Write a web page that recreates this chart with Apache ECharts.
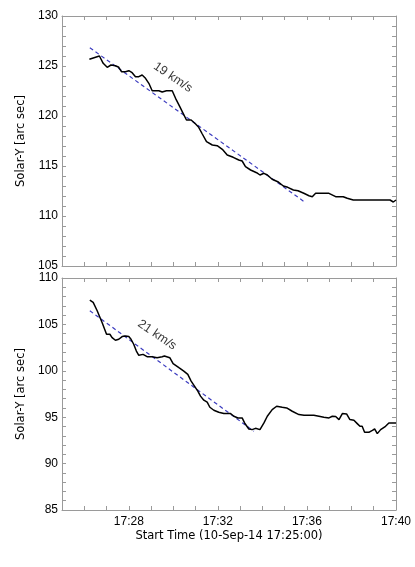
<!DOCTYPE html>
<html>
<head>
<meta charset="utf-8">
<title>Solar-Y vs time</title>
<script src="https://cdn.jsdelivr.net/npm/echarts@6.0.0/dist/echarts.min.js"></script>
<style>
  html, body { margin: 0; padding: 0; background: #fff; }
  #chart { width: 415px; height: 567px; }
</style>
</head>
<body>
<div id="chart"></div>
<script>
// time is in minutes after the start time 17:25:00
const startHour = 17;
const startMinute = 25;

// upper panel track
const topTime = [1.23, 1.68, 1.85, 2.03, 2.2, 2.4, 2.55, 2.67, 2.85, 3.0, 3.15, 3.3, 3.45, 3.6, 3.75, 3.9,
  4.05, 4.35, 4.5, 4.69, 4.95, 5.1, 5.29, 5.44, 5.59, 5.8, 6.0, 6.14, 6.3, 6.49, 6.75, 6.97, 7.2, 7.42,
  7.69, 7.94, 8.09, 8.24, 8.47, 8.74, 8.89, 9.07, 9.22, 9.44, 9.69, 9.94, 10.14, 10.39, 10.6, 10.86,
  11.09, 11.24, 11.39, 11.99, 12.29, 12.63, 12.81, 13.08, 14.73, 14.88, 15.0];
const topY = [125.67, 126.0, 125.27, 124.87, 125.1, 125.03, 124.87, 124.43, 124.43, 124.53, 124.33, 123.93,
  123.93, 124.1, 123.77, 123.27, 122.53, 122.53, 122.4, 122.53, 122.53, 121.77, 120.93, 120.27, 119.6,
  119.6, 119.2, 118.87, 118.2, 117.43, 117.1, 117.03, 116.67, 116.1, 115.87, 115.6, 115.5, 114.93, 114.6,
  114.33, 114.1, 114.27, 114.1, 113.67, 113.43, 113.0, 112.87, 112.6, 112.53, 112.27, 112.03, 111.93,
  112.27, 112.27, 111.93, 111.93, 111.77, 111.6, 111.6, 111.4, 111.6];

// lower panel track
const bottomTime = [1.25, 1.4, 1.58, 1.8, 2.0, 2.15, 2.25, 2.4, 2.55, 2.7, 2.85, 3.0, 3.1, 3.22, 3.34, 3.45,
  3.64, 3.82, 4.05, 4.27, 4.5, 4.6, 4.84, 4.99, 5.25, 5.47, 5.65, 5.8, 5.95, 6.1, 6.22, 6.37, 6.52, 6.64,
  6.82, 7.04, 7.27, 7.57, 7.72, 7.9, 8.09, 8.2, 8.39, 8.54, 8.69, 8.89, 9.07, 9.22, 9.44, 9.64, 9.89,
  10.09, 10.34, 10.64, 10.87, 11.31, 11.54, 11.76, 11.99, 12.14, 12.29, 12.44, 12.59, 12.78, 12.93,
  13.11, 13.26, 13.38, 13.48, 13.59, 13.78, 13.94, 14.04, 14.16, 14.31, 14.53, 14.68, 15.0];
const bottomY = [107.62, 107.37, 106.47, 105.2, 103.94, 103.94, 103.58, 103.29, 103.4, 103.69, 103.76,
  103.69, 103.4, 102.86, 102.13, 101.67, 101.77, 101.52, 101.52, 101.41, 101.52, 101.6, 101.41, 100.77,
  100.33, 99.97, 99.61, 98.89, 98.35, 97.81, 97.27, 96.83, 96.62, 96.07, 95.75, 95.53, 95.39, 95.39,
  95.1, 94.92, 94.92, 94.38, 93.73, 93.66, 93.8, 93.66, 94.38, 95.1, 95.82, 96.18, 96.07, 96.0, 95.64,
  95.28, 95.2, 95.2, 95.1, 94.99, 94.92, 95.1, 95.07, 94.74, 95.39, 95.35, 94.74, 94.67, 94.31, 94.02,
  94.02, 93.37, 93.37, 93.59, 93.73, 93.23, 93.66, 94.02, 94.38, 94.38];

// linear fits (end points)
const topFitTime = [1.25, 10.94];
const topFitY = [126.83, 111.33];
const bottomFitTime = [1.25, 8.62];
const bottomFitY = [106.47, 93.48];

// speed annotations
const speedText = ['19 km/s', '21 km/s'];
const speedTime = [4.98, 4.27];
const speedY = [123.87, 103.86];

// axis ranges / ticks
const timeRange = [0, 15];
const topRange = [105, 130];
const bottomRange = [85, 110];
const labelEveryMin = 4;
const labelEveryY = 5;

const FONT = 'Liberation Sans';
const NAME_FONT = 'DejaVu Sans';
const AXIS_GREY = '#9a9a9a';

function zip(xs, ys) {
  return xs.map((x, i) => [x, ys[i]]);
}

function timeLabel(v) {
  const m = startMinute + v;
  if (m % labelEveryMin !== 0) return '';
  return startHour + ':' + String(m).padStart(2, '0');
}

function xAxisFor(gridIndex, position, showLabels) {
  return {
    type: 'value',
    gridIndex: gridIndex,
    position: position,
    min: timeRange[0],
    max: timeRange[1],
    interval: 1,
    axisLine: { show: true, onZero: false, lineStyle: { color: AXIS_GREY, width: 1 } },
    axisTick: { show: true, inside: true, length: 4, lineStyle: { color: AXIS_GREY } },
    axisLabel: {
      show: showLabels,
      formatter: timeLabel,
      color: '#000',
      fontFamily: FONT,
      fontSize: 12,
      margin: 6
    },
    splitLine: { show: false },
    name: showLabels ? 'Start Time (10-Sep-14 17:25:00)' : '',
    nameLocation: 'middle',
    nameGap: 20,
    nameTextStyle: { color: '#000', fontFamily: NAME_FONT, fontSize: 11.5 }
  };
}

function yAxisFor(gridIndex, position, range, showLabels) {
  return {
    type: 'value',
    gridIndex: gridIndex,
    position: position,
    min: range[0],
    max: range[1],
    interval: 1,
    axisLine: { show: true, onZero: false, lineStyle: { color: AXIS_GREY, width: 1 } },
    axisTick: { show: true, inside: true, length: 4, lineStyle: { color: AXIS_GREY } },
    axisLabel: {
      show: showLabels,
      formatter: v => (v % labelEveryY === 0 ? String(v) : ''),
      color: '#000',
      fontFamily: FONT,
      fontSize: 12,
      margin: 4
    },
    splitLine: { show: false },
    name: showLabels ? 'Solar-Y [arc sec]' : '',
    nameLocation: 'middle',
    nameRotate: 90,
    nameGap: 29,
    nameTextStyle: { color: '#000', fontFamily: NAME_FONT, fontSize: 11.5 }
  };
}

function track(xi, yi, data) {
  return {
    type: 'line',
    xAxisIndex: xi,
    yAxisIndex: yi,
    data: data,
    showSymbol: false,
    symbol: 'none',
    lineStyle: { color: '#000', width: 1.5 },
    z: 3,
    silent: true
  };
}

function fitLine(xi, yi, data) {
  return {
    type: 'line',
    xAxisIndex: xi,
    yAxisIndex: yi,
    data: data,
    symbol: 'none',
    lineStyle: { color: '#3b3bbf', width: 1.2, type: [4, 3] },
    z: 2,
    silent: true
  };
}

function speedLabel(xi, yi, k) {
  return {
    type: 'scatter',
    xAxisIndex: xi,
    yAxisIndex: yi,
    data: [[speedTime[k], speedY[k]]],
    symbolSize: 0,
    label: {
      show: true,
      position: 'inside',
      formatter: speedText[k],
      rotate: -34,
      color: '#000',
      fontFamily: FONT,
      fontSize: 12.5
    },
    silent: true
  };
}

const chart = echarts.init(document.getElementById('chart'), null, { renderer: 'canvas' });

chart.setOption({
  animation: false,
  backgroundColor: '#fff',
  grid: [
    { left: 62, right: 19, top: 16, height: 250 },
    { left: 62, right: 19, top: 278, height: 232 }
  ],
  xAxis: [
    xAxisFor(0, 'bottom', false),
    xAxisFor(0, 'top', false),
    xAxisFor(1, 'bottom', true),
    xAxisFor(1, 'top', false)
  ],
  yAxis: [
    yAxisFor(0, 'left', topRange, true),
    yAxisFor(0, 'right', topRange, false),
    yAxisFor(1, 'left', bottomRange, true),
    yAxisFor(1, 'right', bottomRange, false)
  ],
  series: [
    fitLine(0, 0, zip(topFitTime, topFitY)),
    track(0, 0, zip(topTime, topY)),
    speedLabel(0, 0, 0),
    fitLine(2, 2, zip(bottomFitTime, bottomFitY)),
    track(2, 2, zip(bottomTime, bottomY)),
    speedLabel(2, 2, 1)
  ]
});
</script>
</body>
</html>
